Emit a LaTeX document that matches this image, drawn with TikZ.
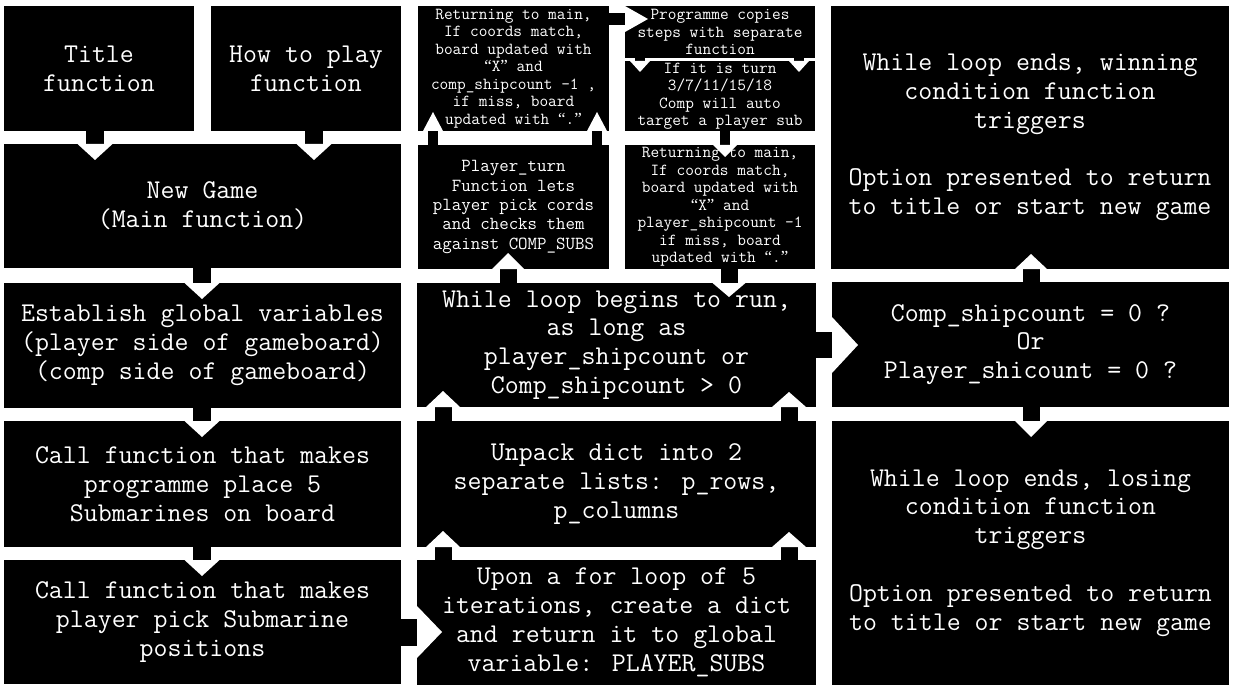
\documentclass[tikz,border=0pt]{standalone}
\usepackage{fontspec}
\usetikzlibrary{calc}
\newfontfamily\qfont{Liberation Serif}
\newcommand\oq{{\qfont “}}
\newcommand\cq{{\qfont ”}}
\newcommand\bigf{\ttfamily\fontsize{27.1}{28.8}\selectfont}
\newcommand\smlf{\ttfamily\fontsize{16.86}{17.5}\selectfont}
\newcommand\midf{\ttfamily\fontsize{18.4}{19.3}\selectfont}
% down arrow: from #1 to #2 at x=#3, stem width #4, head half width #5, head depth #6
\newcommand\ad[6]{%
  \fill[black] (#3-#4/2,0 |- #1.south) rectangle (#3+#4/2,0 |- #2.north);
  \fill[white] (#3-#5,0 |- #2.north) -- (#3+#5,0 |- #2.north) -- ($(#3,0 |- #2.north)+(0,#6)$) -- cycle;}
% up arrow
\newcommand\au[6]{%
  \fill[black] (#3-#4/2,0 |- #1.north) rectangle (#3+#4/2,0 |- #2.south);
  \fill[white] (#3-#5,0 |- #2.south) -- (#3+#5,0 |- #2.south) -- ($(#3,0 |- #2.south)+(0,-#6)$) -- cycle;}
% right arrow at y=#3
\newcommand\ar[6]{%
  \fill[black] (#1.east |- 0,#3-#4/2) rectangle (#2.west |- 0,#3+#4/2);
  \fill[white] (#2.west |- 0,#3-#5) -- (#2.west |- 0,#3+#5) -- ($(#2.west |- 0,#3)+(#6,0)$) -- cycle;}
\begin{document}
\begin{tikzpicture}[x=1pt,y=-1pt,
  box/.style={fill=black, text=white, inner sep=0pt, outer sep=0pt, align=center, anchor=center}]
\fill[white] (0,0) rectangle (1246,695);
\useasboundingbox (0,0) rectangle (1246,695);

% column 1
\node[box, font=\bigf, minimum width=190pt, minimum height=125pt] (title) at (99,68.5) {Title\\function};
\node[box, font=\bigf, minimum width=190pt, minimum height=125pt] (how) at (306,68.5) {How to play\\function};
\node[box, font=\bigf, minimum width=397pt, minimum height=124pt] (ng) at (202.5,206) {New Game\\(Main function)};
\node[box, font=\bigf, minimum width=397pt, minimum height=125pt] (est) at (202.5,345.5) {Establish global variables\\(player side of gameboard)\\(comp side of gameboard)};
\node[box, font=\bigf, minimum width=397pt, minimum height=126pt] (call1) at (202.5,484) {Call function that makes\\programme place 5\\Submarines on board};
\node[box, font=\bigf, minimum width=397pt, minimum height=124pt] (call2) at (202.5,622) {Call function that makes\\player pick Submarine\\positions};

% column 2
\node[box, font=\smlf, minimum width=191pt, minimum height=125pt] (ret1) at (513.5,68.5) {Returning to main,\\If coords match,\\board updated with\\\oq X\cq{} and\\comp\_shipcount -1 ,\\if miss, board\\updated with \oq.\cq};
\node[box, font=\smlf, minimum width=190pt, minimum height=52pt] (prog) at (720,32) {Programme copies\\steps with separate\\function};
\node[box, font=\smlf, minimum width=190pt, minimum height=70pt] (turn) at (720,96) {If it is turn\\3/7/11/15/18\\Comp will auto\\target a player sub};
\node[box, font=\midf, minimum width=191pt, minimum height=124pt] (pturn) at (513.5,207) {Player\_turn\\Function lets\\player pick cords\\and checks them\\against COMP\_SUBS};
\node[box, font=\smlf, minimum width=190pt, minimum height=124pt] (ret2) at (720,207) {Returning to main,\\If coords match,\\board updated with\\\oq X\cq{} and\\player\_shipcount -1\\if miss, board\\updated with \oq.\cq};
\node[box, font=\bigf, minimum width=399pt, minimum height=124pt] (while) at (616.5,345) {While loop begins to run,\\as long as\\player\_shipcount or\\Comp\_shipcount > 0};
\node[box, font=\bigf, minimum width=399pt, minimum height=126pt] (unpack) at (616.5,484) {Unpack dict into 2\\separate lists: p\_rows,\\p\_columns};
\node[box, font=\bigf, minimum width=399pt, minimum height=125pt] (upon) at (616.5,622.5) {Upon a for loop of 5\\iterations, create a dict\\and return it to global\\variable: PLAYER\_SUBS};

% column 3
\node[box, font=\bigf, minimum width=398pt, minimum height=263pt] (win) at (1030,137.5) {While loop ends, winning\\condition function\\triggers\\[28.8pt]Option presented to return\\to title or start new game};
\node[box, font=\bigf, minimum width=397pt, minimum height=125pt] (comp) at (1030.5,344.5) {Comp\_shipcount = 0 ?\\Or\\Player\_shicount = 0 ?};
\node[box, font=\bigf, minimum width=397pt, minimum height=264pt] (lose) at (1030.5,553) {While loop ends, losing\\condition function\\triggers\\[28.8pt]Option presented to return\\to title or start new game};

% connectors
\ad{title}{ng}{95}{18}{17.5}{16}
\ad{how}{ng}{314}{18}{17.5}{16}
\ad{ng}{est}{202}{18}{17.5}{16}
\ad{est}{call1}{202}{18}{17.5}{16}
\ad{call1}{call2}{202}{18}{17.5}{16}
\ar{call2}{upon}{632}{27}{26}{25}
\au{upon}{unpack}{443}{17}{17}{16}
\au{upon}{unpack}{789}{17}{17}{15}
\au{unpack}{while}{443}{17}{17}{16}
\au{unpack}{while}{789}{17}{17}{15}
\au{while}{pturn}{508}{17}{16}{16}
\au{pturn}{ret1}{433}{10}{10}{19}
\au{pturn}{ret1}{597}{10}{10}{19}
\ar{ret1}{prog}{19}{12}{13}{23}
\ad{prog}{turn}{640}{10}{10}{11}
\ad{prog}{turn}{799}{10}{10}{11}
\ad{turn}{ret2}{725}{10}{12}{12}
\ad{ret2}{while}{729}{17}{16.5}{14}
\ar{while}{comp}{345}{26}{28}{26}
\au{comp}{win}{1031}{17}{16}{15}
\ad{comp}{lose}{1031}{17}{16}{16}
\end{tikzpicture}
\end{document}
